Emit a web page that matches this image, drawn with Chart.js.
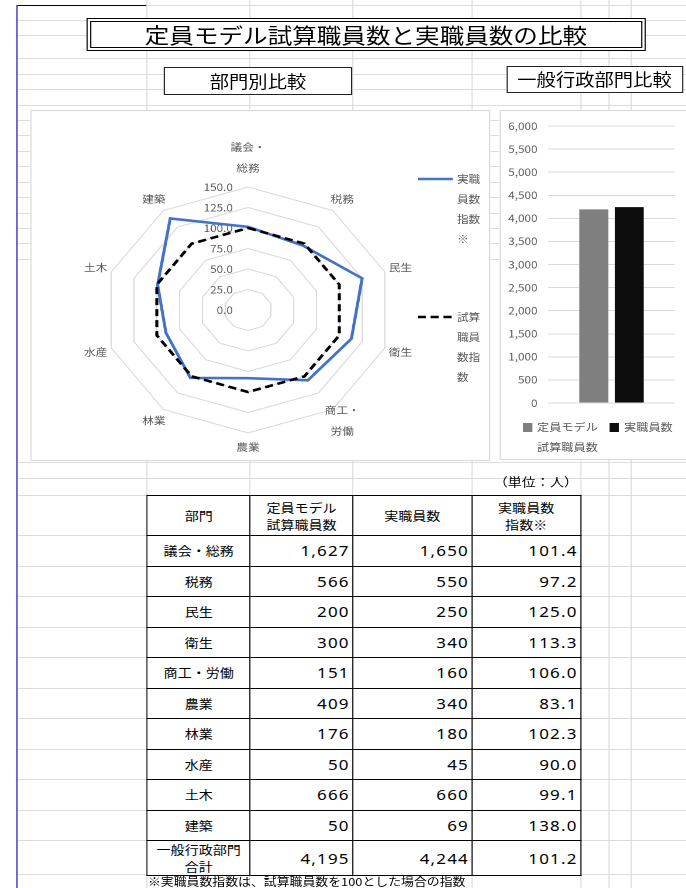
<!DOCTYPE html>
<html lang="ja">
<head>
<meta charset="utf-8">
<title>定員モデル試算職員数と実職員数の比較</title>
<script src="https://cdn.jsdelivr.net/npm/chart.js@4.4.1/dist/chart.umd.min.js"></script>
<style>
  html, body { margin: 0; padding: 0; background: #fff; overflow: hidden; width: 686px; height: 888px; }
  /* the sheet is laid out narrow and widened to the window */
  #sheet { position: absolute; left: 0; top: 0; width: 587px; height: 888px;
           transform: scaleX(1.17); transform-origin: 0 0;
           font-family: "Noto Sans CJK JP", sans-serif; color: #000; }
  .gl { position: absolute; background: #dcdcdc; }
  .box { position: absolute; background: #fff; box-sizing: border-box; }
  .caption { display: flex; align-items: center; justify-content: center; border: 1px solid #222; font-size: 16.5px; }
  .frame { border: 1px solid #d9d9d9; }
  canvas { position: absolute; }
  .lg { position: absolute; font-size: 10px; line-height: 20px; color: #595959; }
  #tbl { position: absolute; left: 125.2px; top: 495px; border-collapse: collapse; table-layout: fixed; background: #fff; }
  #tbl th, #tbl td { border: 1.3px solid #000; padding: 0; font-weight: normal; font-size: 12px; line-height: 17px; text-align: center; }
  #tbl td.num { text-align: right; padding-right: 2px; font-family: "Noto Sans", sans-serif; font-size: 14.5px; letter-spacing: 1px; }
</style>
</head>
<body>
<div id="sheet">
  <div id="grid"></div>

  <div class="box" style="left:73.5px;top:17.7px;width:478.5px;height:33.3px;border:4px double #000;display:flex;align-items:center;justify-content:center;font-size:21px;">定員モデル試算職員数と実職員数の比較</div>
  <div class="box caption" style="left:140.2px;top:66.7px;width:160.7px;height:28.3px;">部門別比較</div>
  <div class="box caption" style="left:432.5px;top:65.7px;width:151.3px;height:27.6px;">一般行政部門比較</div>

  <div class="box frame" style="left:25.6px;top:110px;width:393.2px;height:351px;"></div>
  <div class="box frame" style="left:427.4px;top:110px;width:170px;height:350px;"></div>

  <canvas id="radar"></canvas>
  <canvas id="bar"></canvas>
  <div id="radarLegend"></div>
  <div id="barLegend"></div>

  <div style="position:absolute;left:380px;width:114px;top:472px;font-size:12px;line-height:20px;text-align:right;">（単位：人）</div>
  <table id="tbl">
    <colgroup><col style="width:88.3px"><col style="width:87.4px"><col style="width:101.9px"><col style="width:92.9px"></colgroup>
    <thead><tr style="height:40px"><th>部門</th><th>定員モデル<br>試算職員数</th><th>実職員数</th><th>実職員数<br>指数※</th></tr></thead>
    <tbody id="tbody"></tbody>
  </table>
  <div style="position:absolute;left:126.5px;top:874px;font-size:11px;line-height:15px;white-space:nowrap;">※実職員数指数は、試算職員数を100とした場合の指数</div>
</div>

<script>
// ---- figures by department ----
const departments = ['議会・総務', '税務', '民生', '衛生', '商工・労働', '農業', '林業', '水産', '土木', '建築'];
const modelStaff  = [1627, 566, 200, 300, 151, 409, 176, 50, 666, 50];
const actualStaff = [1650, 550, 250, 340, 160, 340, 180, 45, 660, 69];
const actualIndex = [101.4, 97.2, 125.0, 113.3, 106.0, 83.1, 102.3, 90.0, 99.1, 138.0];
const modelIndex  = [100, 100, 100, 100, 100, 100, 100, 100, 100, 100];

// ---- general administration total ----
const totalLabel  = ['一般行政部門', '合計'];
const totalModel  = 4195;
const totalActual = 4244;
const totalIndex  = 101.2;

// ---- axis ticks ----
const radarTicks = [0, 25, 50, 75, 100, 125, 150];
const barTicks   = [0, 500, 1000, 1500, 2000, 2500, 3000, 3500, 4000, 4500, 5000, 5500, 6000];

const fmt = v => v.toLocaleString('en-US');
const FONT = '"Noto Sans CJK JP", sans-serif';

// ---- worksheet cell grid ----
const colLines = [125.2, 213.2, 300.9, 403, 495.7, 519.7, 539.3];
const rowLines = [5, 20, 35, 58, 74, 89, 105, 120, 135, 151, 166, 182, 197, 212.5, 228, 243, 258.5,
                  462, 478, 495, 535, 565.5, 596, 626.5, 657, 687.5, 718, 748.5, 779, 809.5, 840, 874];
const grid = document.getElementById('grid');
function addDiv(parent, css, cls) {
  const d = document.createElement('div');
  if (cls) d.className = cls;
  d.style.cssText = css;
  parent.appendChild(d);
  return d;
}
rowLines.forEach(y => addDiv(grid, `left:14.5px;width:573px;top:${y}px;height:1px;`, 'gl'));
colLines.forEach(x => addDiv(grid, `left:${x}px;width:1px;top:0;height:888px;`, 'gl'));
addDiv(grid, 'position:absolute;left:14.5px;width:110.7px;top:4.6px;height:1.2px;background:#000;');
addDiv(grid, 'position:absolute;left:14px;width:1.3px;top:5px;height:883px;background:#1010b0;');

// ---- table ----
const tbody = document.getElementById('tbody');
function addRow(name, a, b, c, h) {
  const tr = document.createElement('tr');
  tr.style.height = h + 'px';
  const nameCell = document.createElement('td');
  [].concat(name).forEach((t, i) => {
    if (i) nameCell.appendChild(document.createElement('br'));
    nameCell.appendChild(document.createTextNode(t));
  });
  tr.appendChild(nameCell);
  [fmt(a), fmt(b), c.toFixed(1)].forEach(t => {
    const td = document.createElement('td');
    td.className = 'num';
    td.textContent = t;
    tr.appendChild(td);
  });
  tbody.appendChild(tr);
}
departments.forEach((d, i) => addRow(d, modelStaff[i], actualStaff[i], actualIndex[i], 30.5));
addRow(totalLabel, totalModel, totalActual, totalIndex, 34);

// ---- radar: index by department ----
const radarLabels = departments.map(d => {
  const k = d.indexOf('・');
  return (k > 0 && k < d.length - 1) ? [d.slice(0, k + 1), d.slice(k + 1)] : d;
});

const radarText = {
  id: 'radarText',
  beforeDatasetsDraw(chart) {
    const s = chart.scales.r, ctx = chart.ctx;
    ctx.save();
    ctx.fillStyle = '#595959';
    ctx.font = '10px ' + FONT;
    ctx.textBaseline = 'middle';
    ctx.textAlign = 'right';
    radarTicks.forEach(v => ctx.fillText(v.toFixed(1), s.xCenter - 13, s.yCenter - s.getDistanceFromCenterForValue(v)));
    ctx.textAlign = 'center';
    const lineH = 21;
    chart.data.labels.forEach((lab, i) => {
      const lines = [].concat(lab);
      const n = lines.length;
      const p = s.getPointPosition(i, s.drawingArea + 14);
      const up = Math.max(0, Math.cos(s.getIndexAngle(i)));
      const lift = n > 1 ? up * ((n - 1) * lineH / 2 + 5) : 0;
      const y0 = p.y - lift - (n - 1) * lineH / 2;
      lines.forEach((t, j) => ctx.fillText(t, p.x, y0 + j * lineH));
    });
    ctx.restore();
  }
};

const radarCanvas = document.getElementById('radar');
radarCanvas.style.left = '26px';
radarCanvas.style.top = '111px';
radarCanvas.width = 392;
radarCanvas.height = 349;

const radarChart = new Chart(radarCanvas, {
  type: 'radar',
  data: {
    labels: radarLabels,
    datasets: [
      { label: '実職員数指数※', data: actualIndex, borderColor: '#4472C4', borderWidth: 2.6,
        pointRadius: 0, pointHoverRadius: 0, fill: false, order: 1 },
      { label: '試算職員数指数', data: modelIndex, borderColor: '#000000', borderWidth: 2.6,
        borderDash: [7, 4], pointRadius: 0, pointHoverRadius: 0, fill: false, order: 0 }
    ]
  },
  options: {
    responsive: false,
    animation: false,
    devicePixelRatio: 2,
    events: [],
    layout: { padding: { left: 63, right: 83, top: 76, bottom: 27 } },
    plugins: { legend: { display: false }, tooltip: { enabled: false } },
    scales: {
      r: {
        min: 0, max: 150,
        afterBuildTicks: s => { s.ticks = radarTicks.map(value => ({ value })); },
        ticks: { display: false },
        grid: { color: '#d9d9d9', lineWidth: 1 },
        angleLines: { display: false },
        pointLabels: { display: false }
      }
    }
  },
  plugins: [radarText]
});

// radar legend, one wrapped entry per dataset
const radarLegend = document.getElementById('radarLegend');
const radarLegendY = [179, 317];
radarChart.data.datasets.forEach((ds, i) => {
  const y = radarLegendY[i];
  const svg = document.createElementNS('http://www.w3.org/2000/svg', 'svg');
  svg.setAttribute('width', '31');
  svg.setAttribute('height', '6');
  svg.style.cssText = `position:absolute;left:357px;top:${y - 3}px;`;
  const ln = document.createElementNS('http://www.w3.org/2000/svg', 'line');
  ln.setAttribute('x1', '0'); ln.setAttribute('x2', '30');
  ln.setAttribute('y1', '3'); ln.setAttribute('y2', '3');
  ln.setAttribute('stroke', ds.borderColor);
  ln.setAttribute('stroke-width', '2.6');
  if (ds.borderDash) ln.setAttribute('stroke-dasharray', ds.borderDash.join(' '));
  svg.appendChild(ln);
  radarLegend.appendChild(svg);
  const t = addDiv(radarLegend, `left:390.5px;top:${y - 10}px;width:21px;`, 'lg');
  t.textContent = ds.label;
});

// ---- bar: general administration total ----
const barCanvas = document.getElementById('bar');
barCanvas.style.left = '428px';
barCanvas.style.top = '111px';
barCanvas.width = 160;
barCanvas.height = 349;

const barChart = new Chart(barCanvas, {
  type: 'bar',
  data: {
    labels: [''],
    datasets: [
      { label: '定員モデル試算職員数', data: [totalModel], backgroundColor: '#7f7f7f' },
      { label: '実職員数', data: [totalActual], backgroundColor: '#0d0d0d' }
    ]
  },
  options: {
    responsive: false,
    animation: false,
    devicePixelRatio: 2,
    events: [],
    datasets: { bar: { categoryPercentage: 0.558, barPercentage: 0.818 } },
    layout: { padding: { left: 0, right: 11, top: 12, bottom: 57 } },
    plugins: { legend: { display: false }, tooltip: { enabled: false } },
    scales: {
      x: { display: false },
      y: {
        min: 0, max: 6000,
        afterBuildTicks: s => { s.ticks = barTicks.map(value => ({ value })); },
        afterFit: s => { s.width = 40.4; },
        border: { display: false },
        grid: { color: '#d9d9d9', lineWidth: 1, drawTicks: false },
        ticks: { padding: 9, color: '#595959', font: { family: FONT, size: 10 }, callback: v => fmt(v) }
      }
    }
  }
});

// bar legend
const barLegend = document.getElementById('barLegend');
const barLegendX = [447, 521.4];
barChart.data.datasets.forEach((ds, i) => {
  const x = barLegendX[i];
  addDiv(barLegend, `position:absolute;left:${x}px;top:422.5px;width:7.7px;height:9px;background:${ds.backgroundColor};`);
  const t = addDiv(barLegend, `left:${x + 12}px;top:417px;width:53px;`, 'lg');
  t.style.fontSize = '10.4px';
  t.textContent = ds.label;
});
</script>
</body>
</html>
